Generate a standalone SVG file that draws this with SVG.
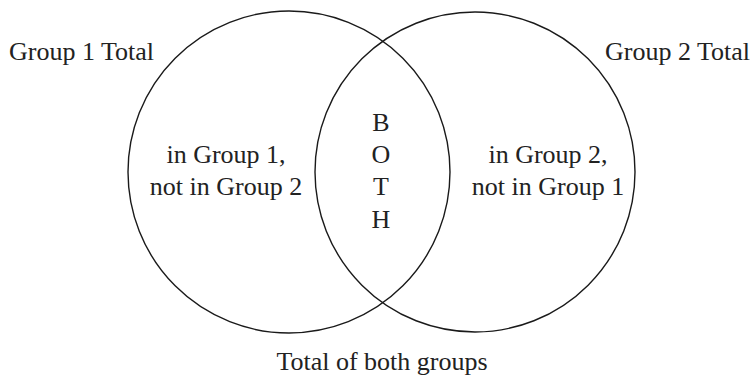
<svg xmlns="http://www.w3.org/2000/svg" width="754" height="375" viewBox="0 0 754 375">
<style>
.c{fill:none;stroke:#1a1a1a;stroke-width:1.4}
.t{font-family:"Liberation Serif","Times New Roman",serif;font-size:26px;fill:#222}
.m{text-anchor:middle}
</style>
<rect width="754" height="375" fill="#fff"/>
<g id="group1">
<circle class="c" cx="289" cy="172" r="161"/>
<text class="t" x="9" y="60">Group 1 Total</text>
<text class="t m" x="226" y="163">in Group 1,</text>
<text class="t m" x="226" y="195">not in Group 2</text>
</g>
<g id="group2">
<circle class="c" cx="475" cy="172" r="160"/>
<text class="t" x="605" y="60">Group 2 Total</text>
<text class="t m" x="548" y="163">in Group 2,</text>
<text class="t m" x="548" y="195">not in Group 1</text>
</g>
<g id="both">
<text class="t m" x="381" y="131">B</text>
<text class="t m" x="381" y="163">O</text>
<text class="t m" x="381" y="195">T</text>
<text class="t m" x="381" y="228">H</text>
</g>
<g id="total">
<text class="t m" x="382" y="370">Total of both groups</text>
</g>
<g id="connectors"/>
</svg>
